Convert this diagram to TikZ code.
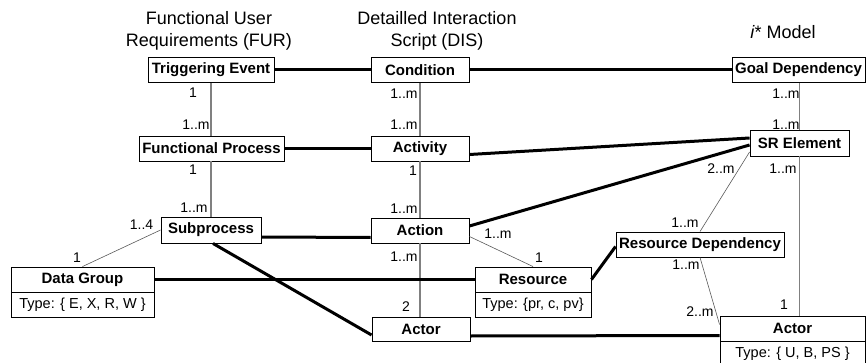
\documentclass[tikz,border=0pt]{standalone}
\usepackage{fontspec}
\setmainfont{Liberation Sans}
\usetikzlibrary{calc}
\begin{document}
\begin{tikzpicture}[x=1pt,y=-1pt,
 box/.style={draw=black, line width=0.9pt, fill=white, inner sep=0pt, minimum height=25pt, font=\fontsize{15}{17}\selectfont\bfseries},
 typebox/.style={draw=black, line width=0.9pt, fill=white, inner sep=0pt, minimum height=25pt, font=\fontsize{14.5}{17}\selectfont},
 heavy/.style={line width=3pt, black},
 vline/.style={line width=1.5pt, gray},
 thinl/.style={line width=0.6pt, gray!70!black},
 lab/.style={font=\fontsize{14}{16}\selectfont, inner sep=0pt},
 ttl/.style={font=\fontsize{18}{22}\selectfont, inner sep=0pt, align=center}
]
\useasboundingbox (0,0) rectangle (866,363);
% titles
\node[ttl] (t1) at (209,31) {Functional User\\Requirements (FUR)};
\node[ttl] (t2) at (437,31) {Detailled Interaction\\Script (DIS)};
\node[ttl] (t3) at (783,32) {\textit{i}* Model};
% boxes
\node[box, minimum width=126pt] (te) at (211,70) {Triggering Event};
\node[box, minimum width=98pt] (cond) at (420,70) {Condition};
\node[box, minimum width=133pt] (gd) at (798.5,70) {Goal Dependency};
\node[box, minimum width=145pt] (fp) at (211.5,148.5) {Functional Process};
\node[box, minimum width=98pt] (act) at (420,148.5) {Activity};
\node[box, minimum width=99pt, minimum height=26pt] (sr) at (799.5,143) {SR Element};
\node[box, minimum width=100pt, minimum height=26pt] (sub) at (211,230) {Subprocess};
\node[box, minimum width=98pt] (action) at (420,230.5) {Action};
\node[box, minimum width=168pt] (rd) at (700,244.5) {Resource Dependency};
\node[box, minimum width=143pt] (dg) at (82.5,279.5) {Data Group};
\node[typebox, minimum width=143pt] (dgt) at (82.5,304.5) {Type: \{ E, X, R, W \}};
\node[box, minimum width=116pt] (res) at (533,279.5) {Resource};
\node[typebox, minimum width=116pt] (rest) at (533,304.5) {Type: \{pr, c, pv\}};
\node[box, minimum width=98pt, minimum height=24pt] (actm) at (421,329) {Actor};
\node[box, minimum width=145pt] (ar) at (792.5,328.5) {Actor};
\node[typebox, minimum width=145pt] (art) at (792.5,353.5) {Type: \{ U, B, PS \}};
% vertical gray lines
\draw[vline] (te.south) -- (te.south |- fp.north);
\draw[vline] (te.south |- fp.south) -- (te.south |- sub.north);
\draw[vline] (cond.south) -- (act.north);
\draw[vline] (act.south) -- (action.north);
\draw[vline] (action.south) -- (action.south |- actm.north);
\draw[vline] (sr.north) -- (sr.north |- gd.south);
\draw[vline] (sr.south) -- (sr.south |- ar.north);
% thin diagonals
\draw[thinl] (sub.west) -- (dg.north);
\draw[thinl] ([yshift=-6pt]action.east) -- (res.north);
\draw[thinl] ([yshift=-9pt]sr.west) -- (rd.north);
\draw[thinl] (rd.south) -- ([yshift=4pt]ar.west);
% heavy lines
\draw[heavy] (te.east) -- (cond.west);
\draw[heavy] (cond.east) -- (gd.west);
\draw[heavy] (fp.east) -- (act.west);
\draw[heavy] ([yshift=-6pt]act.east) -- ([yshift=5pt]sr.west);
\draw[heavy] ([yshift=4.5pt]action.east) -- ([yshift=-2pt]sr.west);
\draw[heavy] ([yshift=-7pt]sub.east) -- ([yshift=-7pt]action.west);
\draw[heavy] ([xshift=2pt]sub.south) -- ([yshift=-6pt]actm.west);
\draw[heavy] (dg.east) -- (res.west);
\draw[heavy] (res.east) -- ([yshift=-2pt]rd.west);
\draw[heavy] ([yshift=-7pt]actm.east) -- ([yshift=-7pt]ar.west);
% multiplicities
\node[lab] (m1) at (193,93) {1};
\node[lab] (m2) at (196,125) {1..m};
\node[lab] (m3) at (193,170) {1};
\node[lab] (m4) at (194,208) {1..m};
\node[lab] (m5) at (141.5,225) {1..4};
\node[lab] (m6) at (77,258) {1};
\node[lab] (m7) at (404,94) {1..m};
\node[lab] (m8) at (404,125) {1..m};
\node[lab] (m9) at (413,171) {1};
\node[lab] (m10) at (404,209) {1..m};
\node[lab] (m11) at (498,234) {1..m};
\node[lab] (m12) at (404,257) {1..m};
\node[lab] (m13) at (406,307) {2};
\node[lab] (m14) at (539,258) {1};
\node[lab] (m15) at (786,94) {1..m};
\node[lab] (m16) at (786,125) {1..m};
\node[lab] (m17) at (721,169) {2..m};
\node[lab] (m18) at (783,169) {1..m};
\node[lab] (m19) at (685,223) {1..m};
\node[lab] (m20) at (686,265) {1..m};
\node[lab] (m21) at (700,312) {2..m};
\node[lab] (m22) at (784,305) {1};
\end{tikzpicture}
\end{document}
